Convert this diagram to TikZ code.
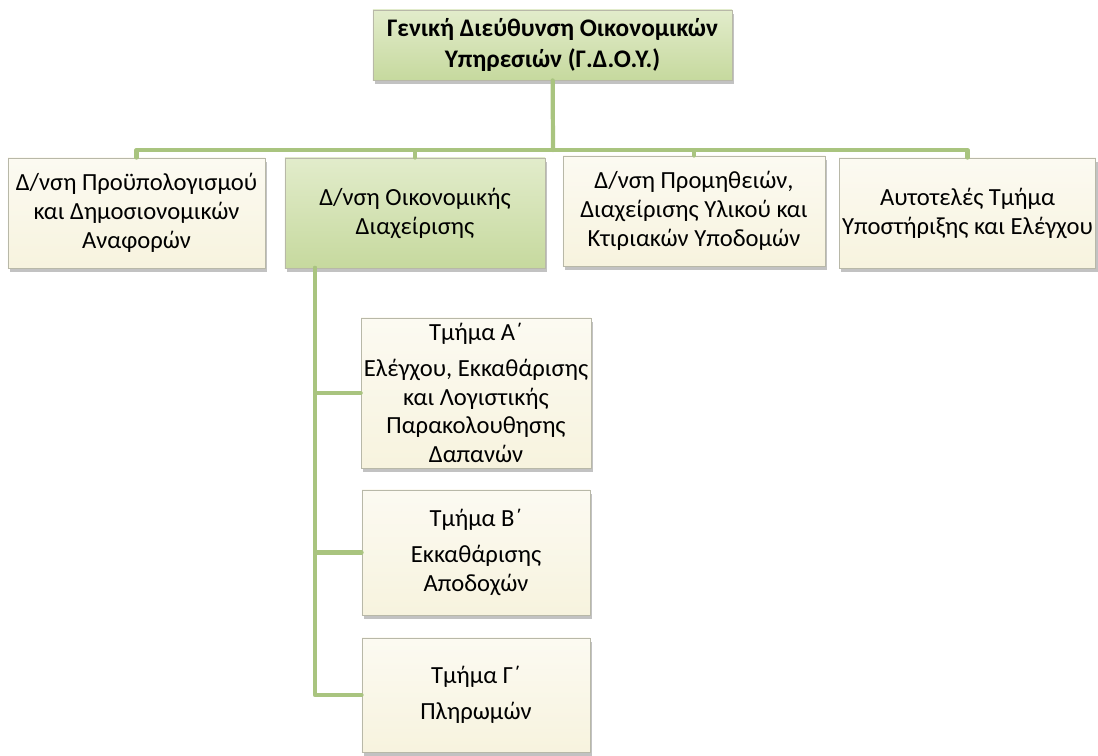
\documentclass[tikz,border=0pt]{standalone}
\usepackage{fontspec}
\setmainfont{Carlito}
\usetikzlibrary{shadows}
\definecolor{bar}{HTML}{A9C47F}
\definecolor{edge}{HTML}{B8B8A8}
\definecolor{cream}{HTML}{F7F3DE}
\definecolor{greentop}{HTML}{E2ECCB}
\definecolor{greenbot}{HTML}{C6D99E}
\tikzset{
  unitbox/.style={draw=edge,line width=0.6pt,align=center,inner sep=2pt,
    drop shadow={shadow xshift=1.5pt,shadow yshift=-3pt,opacity=0.4,fill=black!60},
    font=\fontsize{17.5pt}{20.5pt}\selectfont},
  creambox/.style={unitbox,top color=white!60!cream,bottom color=cream},
  greenbox/.style={unitbox,top color=greentop,bottom color=greenbot},
  conn/.style={bar,line width=3pt,line cap=round,line join=round}
}
\begin{document}
\begin{tikzpicture}[x=0.025cm,y=-0.025cm]
         \useasboundingbox (0,0) rectangle (1098,756);
         % top level
         \node[greenbox,minimum width=8.975cm,minimum height=1.75cm,
           font=\bfseries\fontsize{18pt}{22.5pt}\selectfont] (gdoy) at (552.5,45)
           {Γενική Διεύθυνση Οικονομικών\\Υπηρεσιών (Γ.Δ.Ο.Υ.)};
         % directorates
         \node[creambox,minimum width=6.425cm,minimum height=2.75cm] (dproy) at (136.5,213)
           {Δ/νση Προϋπολογισμού\\και Δημοσιονομικών\\Αναφορών};
         \node[greenbox,minimum width=6.5cm,minimum height=2.75cm] (doik) at (415,213)
           {Δ/νση Οικονομικής\\Διαχείρισης};
         \node[creambox,minimum width=6.55cm,minimum height=2.75cm] (dprom) at (694,211)
           {Δ/νση Προμηθειών,\\Διαχείρισης Υλικού και\\Κτιριακών Υποδομών};
         \node[creambox,minimum width=6.375cm,minimum height=2.75cm] (autot) at (967.5,213)
           {Αυτοτελές Τμήμα\\Υποστήριξης και Ελέγχου};
         % sections
         \node[creambox,minimum width=5.7cm,minimum height=3.75cm] (tmA) at (476,393)
           {Τμήμα Α΄\\[5pt]Ελέγχου, Εκκαθάρισης\\και Λογιστικής\\Παρακολουθησης\\Δαπανών};
         \node[creambox,minimum width=5.7cm,minimum height=3.125cm] (tmB) at (476,552.5)
           {Τμήμα Β΄\\[5pt]Εκκαθάρισης\\Αποδοχών};
         \node[creambox,minimum width=5.7cm,minimum height=2.85cm] (tmG) at (476,695)
           {Τμήμα Γ΄\\[5pt]Πληρωμών};
         % connectors
         \coordinate (bus) at (553,150);
         \coordinate (spine) at (315,268);
         \draw[conn] (gdoy) -- (bus);
         \draw[conn] (bus) -| (dproy.north);
         \draw[conn] (bus) -| (doik.north);
         \draw[conn] (bus) -| (dprom.north);
         \draw[conn] (bus) -| (autot.north);
         \draw[conn] (spine) |- (tmA.west);
         \draw[conn] (spine) |- (tmB.west);
         \draw[conn] (spine) |- (tmG.west);
      \end{tikzpicture}
\end{document}
